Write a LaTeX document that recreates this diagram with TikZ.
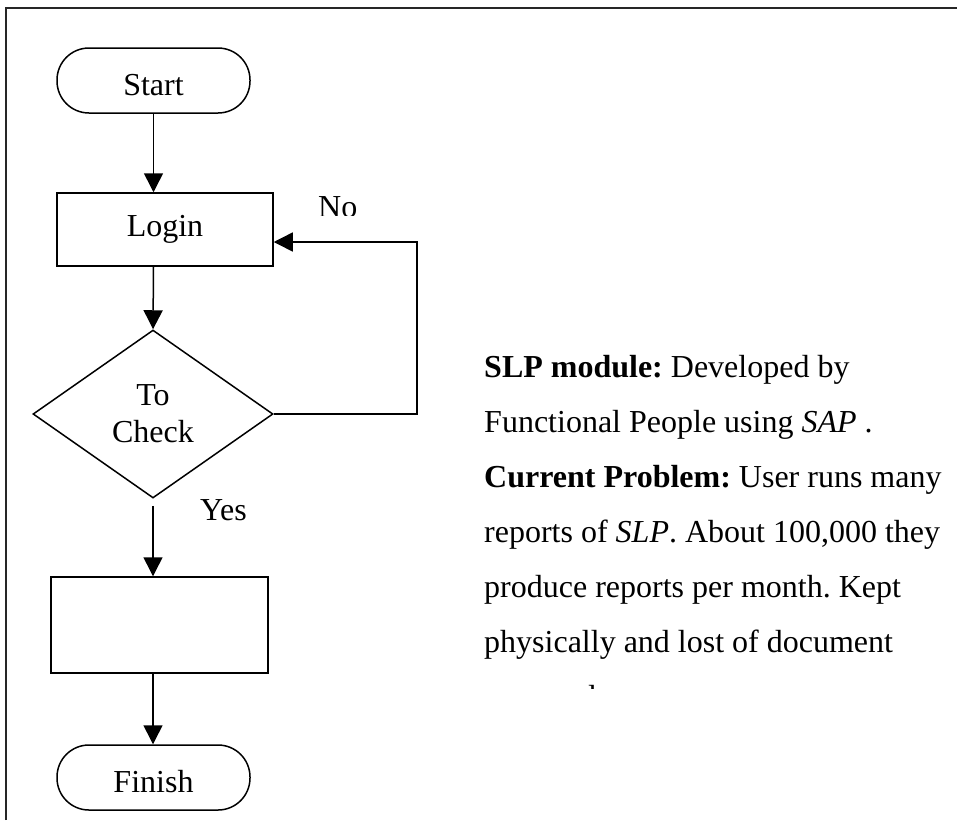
\documentclass[tikz,border=0pt]{standalone}
\usepackage{fontspec}
\setmainfont{Liberation Serif}
\usetikzlibrary{arrows.meta,shapes.geometric}
\frenchspacing
\begin{document}
\begin{tikzpicture}[x=1pt,y=-1pt,
  every node/.style={font=\fontsize{32}{37}\selectfont,inner sep=0pt},
  box/.style={draw,line width=1.5pt},
  term/.style={box,rounded corners=32pt,minimum width=193pt,minimum height=65pt,text height=29pt,text depth=0pt},
  dec/.style={box,diamond,minimum width=240pt,minimum height=168pt,align=center},
  arr/.style={line width=1.5pt,-{Triangle[length=19pt,width=19pt]}},
  lbl/.style={anchor=base west},
  txt/.style={anchor=base west}
]
\useasboundingbox (0,0) rectangle (957,820);
% frame
\draw[line width=2pt,black!85] (6,820) -- (6,8) -- (957,8);

% flowchart
\node[term] (start) at (153.5,80.5) {Start};
\node[box,minimum width=216pt,minimum height=73pt] (login) at (165,229.5) {Login};
\node[dec] (chk) at (153,414) {To\\Check};
\node[box,minimum width=217pt,minimum height=96pt] (proc) at (159.5,625) {};
\node[term] (fin) at (153.5,777.5) {Finish};

\draw[arr] (start) -- (start |- login.north);
\draw[arr] (start |- login.south) -- (chk.north);
\draw[arr] ([yshift=-7pt]chk.south) -- (chk |- proc.north);
\draw[arr] (chk |- proc.south) -- (chk |- fin.north);

\coordinate (lc) at (417,242);
\draw[arr] (chk.east) -| (lc) -- (lc -| login.east);

\begin{scope}
  \clip (300,180) rectangle (380,215.5);
  \node[lbl] (no) at (318,217) {No};
\end{scope}
\node[lbl] (yes) at (200,520) {Yes};

% description text
\node[txt] (t1) at (484,377) {\textbf{SLP module:} Developed by};
\node[txt] (t2) at (484,432) {Functional People using \textit{SAP} .};
\node[txt] (t3) at (484,487) {\textbf{Current Problem:} User runs many};
\node[txt] (t4) at (484,542) {reports of \textit{SLP}. About 100,000 they};
\node[txt] (t5) at (484,597) {produce reports per month. Kept};
\node[txt] (t6) at (484,652) {physically and lost of document};
\begin{scope}
  \clip (470,670) rectangle (957,688);
  \node[txt] (t7) at (484,707) {occurred.};
\end{scope}
\end{tikzpicture}
\end{document}
